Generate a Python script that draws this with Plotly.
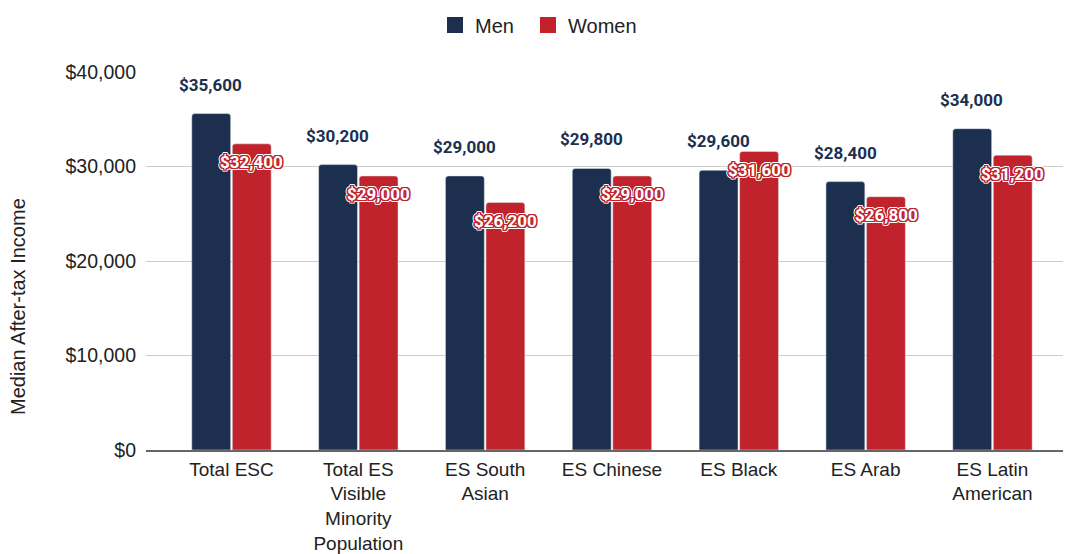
import math
import plotly.graph_objects as go

# Median after-tax income by group
categories = [
    "Total ESC",
    "Total ES<br>Visible<br>Minority<br>Population",
    "ES South<br>Asian",
    "ES Chinese",
    "ES Black",
    "ES Arab",
    "ES Latin<br>American",
]
men = [35600, 30200, 29000, 29800, 29600, 28400, 34000]
women = [32400, 29000, 26200, 29000, 31600, 26800, 31200]
y_ticks = [0, 10000, 20000, 30000, 40000]
y_tick_labels = [f"${v:,}" for v in y_ticks]

NAVY = "#1c2f4f"
RED = "#c0232b"
TEXT = "#222222"
SANS = "Liberation Sans, Arial, sans-serif"


def outline(color_inner, r_inner, color_outer, r_outer, steps=16):
    """Build a CSS text-shadow that draws a two-tone outline around text."""
    parts = []
    for color, r in ((color_inner, r_inner), (color_outer, r_outer)):
        for k in range(steps):
            a = 2 * math.pi * k / steps
            parts.append(f"{r * math.cos(a):.2f}px {r * math.sin(a):.2f}px 0 {color}")
    return ", ".join(parts)


fig = go.Figure()
fig.add_trace(go.Bar(name="Men", x=categories, y=men, marker_color=NAVY, showlegend=False))
fig.add_trace(go.Bar(name="Women", x=categories, y=women, marker_color=RED, showlegend=False))

# Legend entries with larger square swatches, one legend box per series
for name, color, leg in (("Men", NAVY, "legend"), ("Women", RED, "legend2")):
    fig.add_trace(go.Scatter(
        name=name, x=[None], y=[None], mode="markers",
        marker=dict(symbol="square", size=16, color=color),
        hoverinfo="skip", legend=leg,
    ))

# Value labels: men above the bar, women straddling the bar top
women_shadow = outline(RED, 1.4, "#ffffff", 2.4)
for cat, m, w in zip(categories, men, women):
    fig.add_annotation(
        x=cat, y=m, xref="x", yref="y", text=f"${m:,}", showarrow=False,
        xshift=-20.5, yshift=29, yanchor="middle",
        font=dict(family="Roboto, sans-serif", size=17, color=NAVY, weight="bold"),
    )
    fig.add_annotation(
        x=cat, y=w, xref="x", yref="y", text=f"${w:,}", showarrow=False,
        xshift=20.5, yshift=-18.5, yanchor="middle",
        font=dict(family="Roboto, sans-serif", size=17, color="#ffffff",
                  weight="bold", shadow=women_shadow),
    )

# Rotated axis title
fig.add_annotation(
    text="Median After-tax Income", textangle=-90, showarrow=False,
    xref="paper", yref="paper", x=(18 - 146) / 917, y=(450 - 307) / 378,
    xanchor="center", yanchor="middle",
    font=dict(family=SANS, size=20, color=TEXT),
)

legend_common = dict(
    orientation="h", xref="container", yref="container",
    y=1 - 25 / 554, xanchor="left", yanchor="middle",
    font=dict(family=SANS, size=20, color=TEXT),
    itemclick=False, itemdoubleclick=False,
)

fig.update_layout(
    width=1065, height=554,
    margin=dict(l=146, r=2, t=72, b=104, autoexpand=False),
    paper_bgcolor="white", plot_bgcolor="white",
    barmode="group", bargap=0.361, bargroupgap=0.04, barcornerradius=3,
    font=dict(family=SANS, size=19.5, color=TEXT),
    legend=dict(x=435 / 1065, **legend_common),
    legend2=dict(x=528 / 1065, **legend_common),
    showlegend=True,
)
fig.update_xaxes(
    type="category", range=[-0.674, 6.556], automargin=False,
    showline=True, linecolor="#666666", linewidth=1.5,
    showgrid=False, ticks="", ticklabelstandoff=1,
    tickfont=dict(family=SANS, size=19, color=TEXT),
)
fig.update_yaxes(
    range=[0, 40000], tickvals=y_ticks, ticktext=y_tick_labels, automargin=False,
    showgrid=True, gridcolor="#cccccc", gridwidth=1,
    zeroline=False, showline=False, ticks="", ticklabelstandoff=9,
    tickfont=dict(family=SANS, size=19.5, color=TEXT),
)

fig.write_html("out.html")
